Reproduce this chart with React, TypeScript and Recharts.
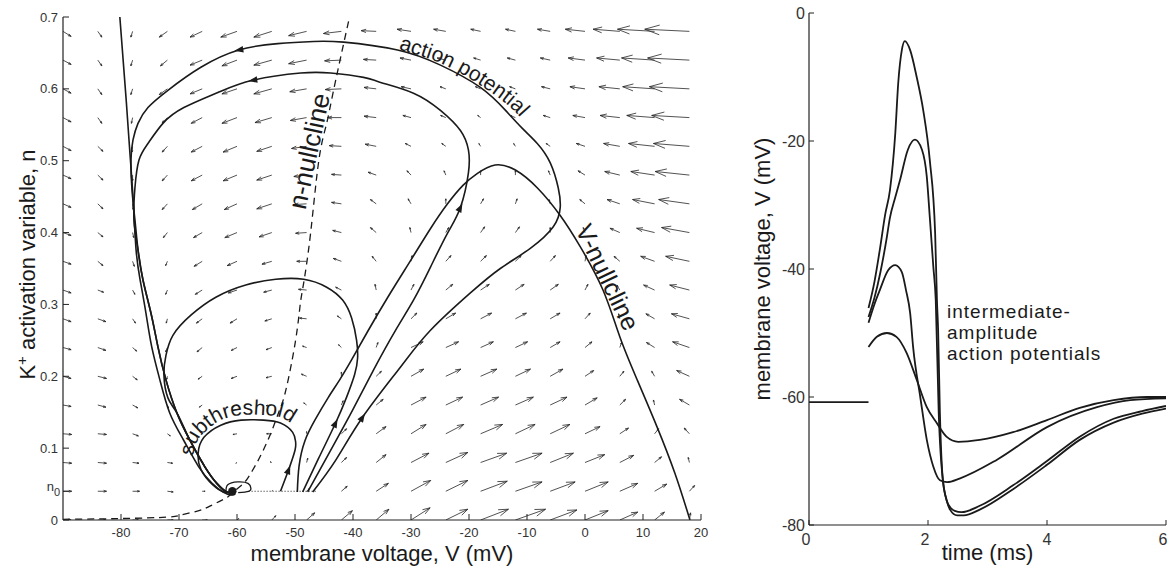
import React from 'react';
import { LineChart, Line, XAxis, YAxis, ReferenceDot, Label } from 'recharts';

const FONT = '"Liberation Sans", Arial, Helvetica, sans-serif';
const INK = '#1a1a1a';

// ---------------- phase plane (left) ----------------
const gridV = [-90, -84, -78, -72, -66, -60, -54, -48, -42, -36, -30, -24, -18, -12, -6, 0, 6, 12, 18];
const gridN = [0, 0.04, 0.08, 0.12, 0.16, 0.2, 0.24, 0.28, 0.32, 0.36, 0.4, 0.44, 0.48, 0.52, 0.56, 0.6, 0.64, 0.68];

// quiver arrow extents, one row per n (bottom to top)
// dV in mV
const arrowDV = [
  [1.4, 1.4, 1.0, 1.0, 0.9, 0.3, 0.7, 1.4, 1.9, 2.2, 3.3, 3.8, 4.8, 5.2, 4.6, 4.0, 3.1, 1.7, 0.2],
  [1.5, 1.5, 1.2, 1.0, 0.5, 0, 0.1, 0.5, 1.0, 2.1, 3.4, 3.8, 4.6, 4.6, 4.3, 4.0, 3.1, 2.1, 0.9],
  [1.5, 1.5, 1.1, 0.9, 0.2, -0.2, -0.3, 0.2, 0.9, 1.7, 3.1, 3.8, 4.5, 4.6, 4.0, 3.4, 2.4, 1.2, -0.2],
  [1.5, 1.5, 1.0, 0.5, -0.2, -0.7, -0.9, 0, 0.9, 1.7, 2.6, 3.1, 3.8, 3.4, 3.4, 2.6, 1.5, 0.7, -0.9],
  [1.4, 1.4, 0.9, 0.2, -0.5, -0.9, -1.0, -0.5, 0.3, 1.2, 2.6, 2.9, 3.1, 3.1, 2.9, 2.1, 1.0, -0.2, -1.7],
  [1.4, 1.5, 0.8, -0.1, -0.7, -1.0, -1.0, -0.9, 0, 0.9, 2.2, 2.6, 2.8, 2.6, 2.2, 1.5, 0.7, -0.5, -2.2],
  [1.4, 1.4, 0.7, -0.3, -0.9, -1.0, -1.0, -0.7, -0.5, 0.3, 2.1, 2.2, 2.2, 2.1, 1.7, 1.2, 0.3, -1.4, -2.9],
  [1.4, 1.4, 0.5, -0.2, -1.0, -1.2, -1.2, -1.2, -0.7, 0, 1.0, 1.7, 1.9, 1.9, 1.7, 0.9, -0.2, -1.5, -3.1],
  [1.4, 1.0, 0.4, -0.3, -1.2, -1.5, -1.4, -1.4, -1.0, -0.2, 0.5, 1.2, 1.5, 1.5, 1.4, 0.5, -0.5, -1.9, -3.4],
  [1.4, 0.9, 0.3, -0.3, -1.4, -1.7, -1.7, -1.7, -1.4, -0.7, 0.2, 0.9, 1.0, 1.0, 0.9, 0.2, -1.0, -2.4, -4.1],
  [1.4, 0.9, 0.2, -0.7, -1.5, -2.1, -2.2, -1.9, -1.5, -1.0, -0.2, 0.5, 0.7, 0.7, 0, -0.3, -1.7, -3.1, -4.8],
  [1.4, 0.9, 0.1, -0.9, -1.7, -2.2, -2.6, -2.1, -1.7, -1.0, -0.5, 0, 0.5, 0.3, -0.2, -0.9, -2.2, -3.8, -5.3],
  [1.4, 0.9, 0, -0.9, -1.9, -2.4, -2.6, -2.2, -1.7, -1.4, -0.7, -0.3, 0, 0, -0.3, -1.2, -2.6, -4.1, -5.9],
  [1.4, 0.9, -0.1, -0.9, -1.9, -2.4, -2.6, -2.6, -2.1, -1.9, -1.0, -0.7, -0.3, -0.3, -0.7, -1.5, -2.8, -4.5, -6.2],
  [1.4, 0.7, -0.2, -0.9, -1.9, -2.6, -2.9, -2.8, -2.4, -2.1, -1.4, -0.9, -0.5, -0.9, -1.2, -2.1, -3.4, -4.8, -6.5],
  [1.4, 0.7, -0.3, -1.4, -2.1, -2.6, -3.1, -2.9, -2.8, -2.1, -1.7, -1.0, -0.9, -1.0, -1.5, -2.6, -3.6, -5.5, -6.9],
  [1.4, 0.7, -0.3, -1.2, -2.1, -2.6, -3.1, -3.1, -2.9, -2.2, -1.9, -1.5, -1.2, -1.4, -1.7, -2.9, -4.0, -5.7, -7.2],
  [1.4, 0.7, -0.3, -1.4, -2.1, -2.8, -3.1, -3.1, -3.1, -2.6, -2.4, -2.1, -1.7, -1.7, -2.2, -3.4, -4.6, -6.4, -7.7],
];
// dn in thousandths of n
const arrowDN = [
  [0, 0, 0, 0, 0, 2, 6, 10, 13, 15, 17, 15, 15, 15, 14, 13, 11, 11, 10],
  [0, 0, 0, -1, 0, 0, 1, 4, 7, 11, 15, 15, 14, 13, 13, 13, 11, 10, 8],
  [-1, -1, -1, -1, -1, -1, 1, 6, 7, 11, 13, 14, 13, 13, 13, 11, 10, 8, 7],
  [-1, -1, -3, -3, -1, -1, 0, 3, 7, 10, 13, 13, 13, 13, 13, 10, 8, 7, 8],
  [-2, -3, -4, -4, -3, -3, -1, 3, 6, 8, 11, 11, 11, 11, 11, 10, 8, 7, 8],
  [-3, -3, -5, -4, -4, -3, -2, 3, 6, 7, 10, 10, 10, 10, 10, 8, 7, 7, 8],
  [-3, -4, -5, -6, -6, -4, -3, 2, 4, 7, 8, 8, 8, 8, 8, 8, 7, 7, 8],
  [-4, -4, -6, -6, -6, -6, -3, 1, 4, 8, 8, 8, 8, 8, 8, 8, 7, 7, 7],
  [-4, -3, -6, -6, -6, -4, -3, 1, 4, 8, 8, 8, 8, 8, 8, 8, 7, 7, 7],
  [-4, -6, -7, -6, -7, -6, -4, 0, 4, 7, 8, 8, 8, 8, 8, 8, 7, 7, 7],
  [-4, -6, -7, -7, -7, -7, -6, -1, 3, 7, 7, 7, 8, 8, 7, 7, 6, 6, 7],
  [-5, -7, -8, -8, -8, -8, -7, -1, 2, 6, 7, 7, 7, 7, 6, 6, 6, 6, 6],
  [-5, -7, -8, -8, -8, -8, -7, -2, 1, 4, 6, 6, 6, 6, 6, 6, 5, 5, 5],
  [-6, -7, -8, -8, -8, -8, -7, -3, 1, 3, 4, 4, 4, 4, 4, 4, 4, 4, 4],
  [-6, -8, -8, -7, -8, -8, -7, -4, 0, 2, 3, 3, 3, 3, 3, 3, 3, 3, 3],
  [-6, -8, -8, -8, -7, -7, -7, -4, -1, 2, 3, 3, 3, 3, 3, 3, 3, 3, 3],
  [-6, -8, -8, -8, -7, -8, -7, -5, -1, 1, 3, 3, 3, 3, 3, 3, 3, 3, 3],
  [-7, -8, -8, -8, -8, -8, -8, -6, -3, 1, 3, 3, 3, 3, 3, 3, 3, 3, 3],
];

// V-nullcline, left branch
const vNullLeftV = [-80.2, -79.1, -78.5, -77.9, -77.4, -76.7, -75.7, -74.7, -73.3, -71.6, -69.2, -66.6, -64.3, -62.4, -61.1, -60.3];
const vNullLeftN = [0.7, 0.584, 0.515, 0.445, 0.376, 0.334, 0.288, 0.241, 0.195, 0.149, 0.111, 0.074, 0.051, 0.039, 0.035, 0.036];
// V-nullcline, middle and right branch
const vNullRightV = [-49.6, -49.3, -48.3, -46.5, -44.3, -42.3, -40.3, -37.5, -34, -30, -26.6, -23.7, -21, -18.6, -15.5, -12, -8.2, -4.3, -0.8, 3.1, 6, 9, 12.4, 15.5, 18.1];
const vNullRightN = [0.039, 0.075, 0.11, 0.14, 0.17, 0.195, 0.222, 0.262, 0.31, 0.362, 0.406, 0.44, 0.466, 0.482, 0.494, 0.487, 0.462, 0.424, 0.38, 0.32, 0.255, 0.195, 0.13, 0.065, 0];
// n-nullcline
const nNullV = [-90, -80, -72, -69.7, -67, -65, -63, -61.6, -60.5, -59, -58, -56.9, -55.9, -54.2, -52.8, -51.6, -49.9, -49.1, -48.5, -47.3, -45.9, -44.6, -43.3, -40.6];
const nNullN = [0.001, 0.002, 0.004, 0.007, 0.012, 0.018, 0.026, 0.032, 0.04, 0.05, 0.06, 0.075, 0.09, 0.12, 0.15, 0.18, 0.25, 0.3, 0.33, 0.4, 0.5, 0.55, 0.6, 0.7];

// trajectories
const apOuterV = [-46.95, -43.0, -38.35, -31.8, -26.64, -19.76, -14.6, -9.43, -5.47, -4.27, -4.61, -5.99, -8.23, -10.8, -13.7, -18.04, -24.92, -32.32, -41.62, -46.78, -52.98, -59.69, -66.23, -71.91, -75.35, -77.07, -77.93, -78.28, -78.1, -77.59, -77.07, -76.21, -74.84, -73.63, -72.25, -70.36, -68.12, -65.54, -63.48, -61.76, -60.72];
const apOuterN = [0.039, 0.083, 0.143, 0.213, 0.264, 0.316, 0.35, 0.378, 0.408, 0.435, 0.462, 0.497, 0.524, 0.545, 0.57, 0.602, 0.633, 0.654, 0.665, 0.666, 0.663, 0.654, 0.63, 0.598, 0.574, 0.552, 0.529, 0.501, 0.459, 0.417, 0.376, 0.334, 0.288, 0.241, 0.195, 0.149, 0.111, 0.074, 0.051, 0.039, 0.039];
const apInnerV = [-47.81, -43.86, -40.07, -36.45, -32.67, -29.57, -26.64, -23.72, -21.48, -20.1, -20.1, -21.48, -24.92, -29.57, -35.25, -38.18, -43.86, -49.02, -57.28, -63.3, -69.16, -72.77, -75.35, -76.9, -77.59, -77.76, -77.07, -76.21, -74.84, -73.63, -72.25, -70.36, -68.12, -65.54, -63.48, -61.76, -60.72];
const apInnerN = [0.039, 0.097, 0.153, 0.209, 0.264, 0.306, 0.352, 0.399, 0.435, 0.483, 0.515, 0.542, 0.57, 0.594, 0.609, 0.616, 0.622, 0.622, 0.612, 0.595, 0.574, 0.552, 0.524, 0.501, 0.463, 0.417, 0.376, 0.334, 0.288, 0.241, 0.195, 0.149, 0.111, 0.074, 0.051, 0.039, 0.039];
const apSmallV = [-48.67, -45.92, -43.0, -41.1, -39.73, -39.21, -39.38, -40.24, -41.79, -44.54, -48.5, -53.32, -58.49, -63.65, -67.95, -71.05, -72.25, -72.6, -71.91, -70.36, -68.12, -65.54, -63.48, -61.76, -60.72];
const apSmallN = [0.039, 0.086, 0.135, 0.171, 0.202, 0.225, 0.25, 0.281, 0.306, 0.324, 0.335, 0.335, 0.327, 0.31, 0.285, 0.257, 0.229, 0.202, 0.17, 0.149, 0.111, 0.074, 0.051, 0.039, 0.039];
const subV = [-52.5, -51.1, -50.0, -49.9, -50.4, -52.5, -55.4, -59.3, -62.8, -65.7, -66.7, -66.2, -64.2, -62.3, -60.8];
const subN = [0.04, 0.07, 0.097, 0.109, 0.122, 0.135, 0.139, 0.139, 0.132, 0.115, 0.093, 0.07, 0.049, 0.039, 0.039];
const eqLoopV = [-61.9, -61.6, -59.9, -58.1, -57.6, -58.0, -59.8];
const eqLoopN = [0.039, 0.049, 0.053, 0.051, 0.044, 0.04, 0.038];

// arrowheads on trajectories: tip and a point just behind it
const headTipV = [-59.69, -57.28, -21.48, -38.35, -43.0, -51.1];
const headTipN = [0.654, 0.612, 0.435, 0.143, 0.135, 0.07];
const headBackV = [-52.98, -49.02, -23.72, -43.0, -45.92, -52.5];
const headBackN = [0.663, 0.622, 0.399, 0.083, 0.086, 0.04];

const N0 = 0.04;
const restV = -60.8;
const n0LineV = [-58, -46.4];

const phaseXTicks = [-80, -70, -60, -50, -40, -30, -20, -10, 0, 10, 20];
const phaseYTicks = [0, N0, 0.1, 0.2, 0.3, 0.4, 0.5, 0.6, 0.7];
const phaseYTicksRight = [0.1, 0.2, 0.3, 0.4, 0.5, 0.6, 0.7];

// ---------------- voltage traces (right) ----------------
const baseT = [0, 1];
const baseV = [-60.8, -60.8];
const fullT = [1.0, 1.1, 1.19, 1.28, 1.36, 1.45, 1.5, 1.56, 1.61, 1.7, 1.81, 1.92, 2.03, 2.12, 2.15, 2.17, 2.2, 2.25, 2.31, 2.37, 2.49, 2.6, 2.87, 3.43, 4.0, 4.55, 5.12, 5.6, 6.0];
const fullV = [-46.1, -42.0, -37.0, -31.5, -27.7, -18.8, -10.9, -5.8, -4.4, -5.8, -10.0, -15.2, -23.0, -34.4, -44.8, -49.5, -62.5, -73.0, -76.0, -77.6, -78.5, -78.5, -77.6, -74.4, -70.6, -66.7, -64.0, -62.6, -61.8];
const midT = [1.0, 1.1, 1.2, 1.3, 1.36, 1.45, 1.53, 1.66, 1.78, 1.9, 1.98, 2.03, 2.09, 2.13, 2.18, 2.25, 2.34, 2.45, 2.56, 2.87, 3.43, 4.0, 4.55, 5.12, 5.6, 6.0];
const midV = [-47.5, -44.5, -40.5, -35.5, -32.0, -28.8, -26.1, -21.4, -19.8, -21.4, -25.6, -31.9, -39.7, -44.8, -62.5, -73.0, -76.8, -77.8, -78.0, -77.0, -73.8, -70.0, -66.2, -63.4, -62.2, -61.4];
const smallT = [1.0, 1.1, 1.19, 1.33, 1.45, 1.56, 1.63, 1.7, 1.75, 1.87, 1.98, 2.09, 2.2, 2.32, 2.54, 3.16, 4.0, 4.84, 5.4, 6.0];
const smallV = [-48.4, -45.5, -43.3, -40.2, -39.4, -40.5, -43.3, -46.9, -52.2, -60.0, -66.7, -70.9, -73.0, -73.3, -72.7, -69.8, -64.7, -61.6, -60.5, -60.2];
const subTT = [1.0, 1.14, 1.31, 1.47, 1.64, 1.81, 1.98, 2.15, 2.31, 2.51, 2.87, 3.43, 4.0, 4.55, 5.12, 5.68, 6.0];
const subTV = [-52.2, -50.6, -50.0, -50.6, -53.1, -57.3, -61.6, -64.1, -66.2, -67.0, -66.7, -65.5, -63.6, -61.7, -60.5, -60.0, -60.0];

const timeTicks = [0, 2, 4, 6];
const voltTicks = [-80, -60, -40, -20, 0];

// ---------------- layout ----------------
const P_W = 720;
const P_H = 567;
const P_MARGIN = { top: 17, right: 19, bottom: 0, left: 0 };
const P_YAXIS_W = 63;
const P_XAXIS_H = 47;
const PLOT_W = P_W - P_MARGIN.left - P_MARGIN.right - P_YAXIS_W;
const PLOT_H = P_H - P_MARGIN.top - P_MARGIN.bottom - P_XAXIS_H;
const PX_PER_MV = PLOT_W / 110;
const PX_PER_N = PLOT_H / 0.7;

const zipVN = (vs: number[], ns: number[]) => vs.map((v, i) => ({ V: v, n: ns[i] }));
const zipTV = (ts: number[], vs: number[]) => ts.map((t, i) => ({ t, v: vs[i] }));

// quiver: shaft + open head (MATLAB style), heads shaped in pixel space
const quiverData: { V: number; n: number | null }[] = [];
gridN.forEach((n0, r) => {
  gridV.forEach((v0, c) => {
    const dv = arrowDV[r][c];
    const dn = arrowDN[r][c] / 1000;
    const ux = dv * PX_PER_MV;
    const uy = dn * PX_PER_N;
    const a = 0.33;
    const b = 0.33;
    const w1 = { V: v0 + (ux - a * (ux + b * uy)) / PX_PER_MV, n: n0 + (uy - a * (uy - b * ux)) / PX_PER_N };
    const w2 = { V: v0 + (ux - a * (ux - b * uy)) / PX_PER_MV, n: n0 + (uy - a * (uy + b * ux)) / PX_PER_N };
    const tip = { V: v0 + dv, n: n0 + dn };
    quiverData.push({ V: v0, n: n0 }, tip, { V: tip.V, n: null }, w1, tip, w2, { V: tip.V, n: null });
  });
});

const headData = headTipV.map((v, i) => ({ V: v, n: headTipN[i], bV: headBackV[i], bN: headBackN[i] }));

const headDot = (props: any) => {
  const { cx, cy, payload, index } = props;
  if (cx == null || cy == null) return <g key={`h${index}`} />;
  const ax = (payload.V - payload.bV) * PX_PER_MV;
  const ay = -(payload.n - payload.bN) * PX_PER_N;
  const len = Math.hypot(ax, ay) || 1;
  const ux = ax / len;
  const uy = ay / len;
  const L = 9;
  const W = 3.3;
  const tx = cx + ux * L * 0.5;
  const ty = cy + uy * L * 0.5;
  const bx = cx - ux * L * 0.5;
  const by = cy - uy * L * 0.5;
  const pts = `${tx},${ty} ${bx - uy * W},${by + ux * W} ${bx + uy * W},${by - ux * W}`;
  return <polygon key={`h${index}`} points={pts} fill={INK} />;
};

// labels that follow a curve
const apLabel = { V: [-32.15, -24.75, -17.87, -12.19, -8.06], n: [0.655, 0.635, 0.604, 0.569, 0.527] };
const nNullLabel = { V: [-48.2, -43.7], n: [0.431, 0.601] };
const vNullLabel = { V: [-1.7, 7.4], n: [0.404, 0.251] };
const subLabel = { V: [-67.6, -66.6, -63.2, -59.35, -55.39, -52.2, -49.7, -48.8], n: [0.089, 0.113, 0.137, 0.146, 0.146, 0.142, 0.127, 0.112] };

// smooth a pixel polyline (Catmull-Rom as cubic Bezier) for text baselines
const smoothD = (pts: { x: number; y: number }[]) => {
  let d = `M${pts[0].x},${pts[0].y}`;
  for (let i = 0; i < pts.length - 1; i++) {
    const p0 = pts[i - 1] || pts[i];
    const p1 = pts[i];
    const p2 = pts[i + 1];
    const p3 = pts[i + 2] || p2;
    const c1x = p1.x + (p2.x - p0.x) / 6;
    const c1y = p1.y + (p2.y - p0.y) / 6;
    const c2x = p2.x - (p3.x - p1.x) / 6;
    const c2y = p2.y - (p3.y - p1.y) / 6;
    d += ` C${c1x},${c1y} ${c2x},${c2y} ${p2.x},${p2.y}`;
  }
  return d;
};

const pathText = (text: string, size: number, id: string) => (props: any) => {
  const { index, points, cx, cy } = props;
  if (index !== 0) return <g key={`${id}${index}`} />;
  if (!points || points.length < 2) {
    return (
      <text key={id} x={cx} y={cy} fontSize={size} fill={INK} fontFamily={FONT}>
        {text}
      </text>
    );
  }
  return (
    <g key={id}>
      <path id={id} d={smoothD(points)} fill="none" stroke="none" />
      <text fontSize={size} fill={INK} fontFamily={FONT}>
        <textPath href={`#${id}`}>{text}</textPath>
      </text>
    </g>
  );
};

const phaseYTick = (props: any) => {
  const { x, y, payload } = props;
  const v = payload.value;
  if (Math.abs(v - N0) < 1e-9) {
    return (
      <text x={x + 2} y={y} textAnchor="end" fontSize={13} fill="#333" fontFamily={FONT}>
        n<tspan dy={5} fontSize={11}>0</tspan>
      </text>
    );
  }
  return (
    <text x={x} y={y} dy={4.5} textAnchor="end" fontSize={13} fill="#333" fontFamily={FONT}>
      {String(v)}
    </text>
  );
};

const timeTick = (props: any) => {
  const { x, y, payload } = props;
  const shift = payload.value === 4 ? 0 : -3;
  return (
    <text x={x + shift} y={y} dy={14} textAnchor="middle" fontSize={16} fill="#333" fontFamily={FONT}>
      {String(payload.value)}
    </text>
  );
};

const axisLine = { stroke: '#222', strokeWidth: 1.2 };
const tickLine = { stroke: '#222', strokeWidth: 1 };

const PhasePlane = () => (
  <LineChart width={P_W} height={P_H} margin={P_MARGIN}>
    <XAxis
      dataKey="V"
      type="number"
      domain={[-90, 20]}
      allowDataOverflow
      ticks={phaseXTicks}
      interval={0}
      height={P_XAXIS_H}
      tickSize={-6}
      tickMargin={14}
      axisLine={axisLine}
      tickLine={tickLine}
      tick={{ fontSize: 13, fill: '#333', fontFamily: FONT }}
    >
      <Label
        content={(p: any) => (
          <text
            x={p.viewBox.x + p.viewBox.width / 2}
            y={p.viewBox.y + p.viewBox.height - 6}
            textAnchor="middle"
            fontSize={22}
            fill={INK}
            fontFamily={FONT}
          >
            membrane voltage, V (mV)
          </text>
        )}
      />
    </XAxis>
    <XAxis
      xAxisId="top"
      orientation="top"
      dataKey="V"
      type="number"
      domain={[-90, 20]}
      allowDataOverflow
      ticks={phaseXTicks}
      interval={0}
      height={0}
      tickSize={-6}
      tick={false}
      axisLine={axisLine}
      tickLine={tickLine}
    />
    <YAxis
      type="number"
      domain={[0, 0.7]}
      allowDataOverflow
      ticks={phaseYTicks}
      interval={0}
      width={P_YAXIS_W}
      tickSize={-6}
      tickMargin={11}
      axisLine={axisLine}
      tickLine={tickLine}
      tick={phaseYTick}
    >
      <Label
        content={(p: any) => {
          const x = p.viewBox.x + 35;
          const y = p.viewBox.y + p.viewBox.height / 2 - 4;
          return (
            <text x={x} y={y} transform={`rotate(-90 ${x} ${y})`} textAnchor="middle" fontSize={22} fill={INK} fontFamily={FONT}>
              K<tspan dy={-8} fontSize={15}>+</tspan>
              <tspan dy={8}> activation variable, n</tspan>
            </text>
          );
        }}
      />
    </YAxis>
    <YAxis
      yAxisId="right"
      orientation="right"
      type="number"
      domain={[0, 0.7]}
      allowDataOverflow
      ticks={phaseYTicksRight}
      interval={0}
      width={0}
      tickSize={-6}
      tick={false}
      axisLine={axisLine}
      tickLine={tickLine}
    />

    <Line data={quiverData} dataKey="n" type="linear" stroke="#262626" strokeWidth={0.8} dot={false} activeDot={false} connectNulls={false} isAnimationActive={false} />

    <Line data={zipVN(nNullV, nNullN)} dataKey="n" type="natural" stroke={INK} strokeWidth={1.3} strokeDasharray="7 5" dot={false} activeDot={false} isAnimationActive={false} />
    <Line data={zipVN(vNullLeftV, vNullLeftN)} dataKey="n" type="natural" stroke={INK} strokeWidth={1.6} dot={false} activeDot={false} isAnimationActive={false} />
    <Line data={zipVN(vNullRightV, vNullRightN)} dataKey="n" type="natural" stroke={INK} strokeWidth={1.6} dot={false} activeDot={false} isAnimationActive={false} />

    <Line data={zipVN(apOuterV, apOuterN)} dataKey="n" type="natural" stroke={INK} strokeWidth={1.6} dot={false} activeDot={false} isAnimationActive={false} />
    <Line data={zipVN(apInnerV, apInnerN)} dataKey="n" type="natural" stroke={INK} strokeWidth={1.6} dot={false} activeDot={false} isAnimationActive={false} />
    <Line data={zipVN(apSmallV, apSmallN)} dataKey="n" type="natural" stroke={INK} strokeWidth={1.6} dot={false} activeDot={false} isAnimationActive={false} />
    <Line data={zipVN(subV, subN)} dataKey="n" type="natural" stroke={INK} strokeWidth={1.6} dot={false} activeDot={false} isAnimationActive={false} />
    <Line data={zipVN(eqLoopV, eqLoopN)} dataKey="n" type="natural" stroke={INK} strokeWidth={1.3} dot={false} activeDot={false} isAnimationActive={false} />
    <Line data={n0LineV.map((v) => ({ V: v, n: N0 }))} dataKey="n" type="linear" stroke={INK} strokeWidth={1} strokeDasharray="1 2" dot={false} activeDot={false} isAnimationActive={false} />

    <Line data={headData} dataKey="n" type="linear" stroke="none" dot={headDot} activeDot={false} isAnimationActive={false} />

    <Line data={zipVN(apLabel.V, apLabel.n)} dataKey="n" type="linear" stroke="none" dot={pathText('action potential', 21, 'lbl-ap')} activeDot={false} isAnimationActive={false} />
    <Line data={zipVN(nNullLabel.V, nNullLabel.n)} dataKey="n" type="linear" stroke="none" dot={pathText('n-nullcline', 26, 'lbl-nn')} activeDot={false} isAnimationActive={false} />
    <Line data={zipVN(vNullLabel.V, vNullLabel.n)} dataKey="n" type="linear" stroke="none" dot={pathText('V-nullcline', 25, 'lbl-vn')} activeDot={false} isAnimationActive={false} />
    <Line data={zipVN(subLabel.V, subLabel.n)} dataKey="n" type="linear" stroke="none" dot={pathText('subthreshold', 21, 'lbl-sub')} activeDot={false} isAnimationActive={false} />

    <ReferenceDot x={restV} y={N0} r={4.2} fill={INK} stroke="none" />
  </LineChart>
);

const T_W = 429;
const T_H = 567;
const T_MARGIN = { top: 13, right: 3, bottom: 0, left: 0 };

const Traces = () => (
  <LineChart width={T_W} height={T_H} margin={T_MARGIN}>
    <XAxis
      dataKey="t"
      type="number"
      domain={[0, 6]}
      allowDataOverflow
      ticks={timeTicks}
      interval={0}
      height={42}
      tickSize={-5}
      tickMargin={11}
      axisLine={axisLine}
      tickLine={tickLine}
      tick={timeTick}
    >
      <Label
        content={(p: any) => (
          <text x={p.viewBox.x + p.viewBox.width / 2} y={p.viewBox.y + 35} textAnchor="middle" fontSize={22} fill={INK} fontFamily={FONT}>
            time (ms)
          </text>
        )}
      />
    </XAxis>
    <YAxis
      type="number"
      domain={[-80, 0]}
      allowDataOverflow
      ticks={voltTicks}
      interval={0}
      width={69}
      tickSize={-5}
      tickMargin={9}
      axisLine={axisLine}
      tickLine={tickLine}
      tick={{ fontSize: 16, fill: '#333', fontFamily: FONT }}
    >
      <Label
        content={(p: any) => {
          const x = p.viewBox.x + 30;
          const y = p.viewBox.y + p.viewBox.height / 2;
          return (
            <text x={x} y={y} transform={`rotate(-90 ${x} ${y})`} textAnchor="middle" fontSize={22} fill={INK} fontFamily={FONT}>
              membrane voltage, V (mV)
            </text>
          );
        }}
      />
    </YAxis>
    <Line data={zipTV(baseT, baseV)} dataKey="v" type="linear" stroke={INK} strokeWidth={1.8} dot={false} activeDot={false} isAnimationActive={false} />
    <Line data={zipTV(fullT, fullV)} dataKey="v" type="monotone" stroke={INK} strokeWidth={1.8} dot={false} activeDot={false} isAnimationActive={false} />
    <Line data={zipTV(midT, midV)} dataKey="v" type="monotone" stroke={INK} strokeWidth={1.8} dot={false} activeDot={false} isAnimationActive={false} />
    <Line data={zipTV(smallT, smallV)} dataKey="v" type="monotone" stroke={INK} strokeWidth={1.8} dot={false} activeDot={false} isAnimationActive={false} />
    <Line data={zipTV(subTT, subTV)} dataKey="v" type="monotone" stroke={INK} strokeWidth={1.8} dot={false} activeDot={false} isAnimationActive={false} />
    <ReferenceDot
      x={2.32}
      y={-47.7}
      r={0}
      shape={(p: any) => (
        <text x={p.cx} y={p.cy} fontSize={19} letterSpacing={1} fill={INK} fontFamily={FONT}>
          <tspan x={p.cx} dy={0}>intermediate-</tspan>
          <tspan x={p.cx} dy={21}>amplitude</tspan>
          <tspan x={p.cx} dy={21}>action potentials</tspan>
        </text>
      )}
    />
  </LineChart>
);

export default function App() {
  return (
    <div style={{ position: 'absolute', left: 0, top: 0, width: 1169, height: 567, background: '#fff', fontFamily: FONT }}>
      <div style={{ position: 'absolute', left: 0, top: 0 }}>
        <PhasePlane />
      </div>
      <div style={{ position: 'absolute', left: 740, top: 0 }}>
        <Traces />
      </div>
    </div>
  );
}
